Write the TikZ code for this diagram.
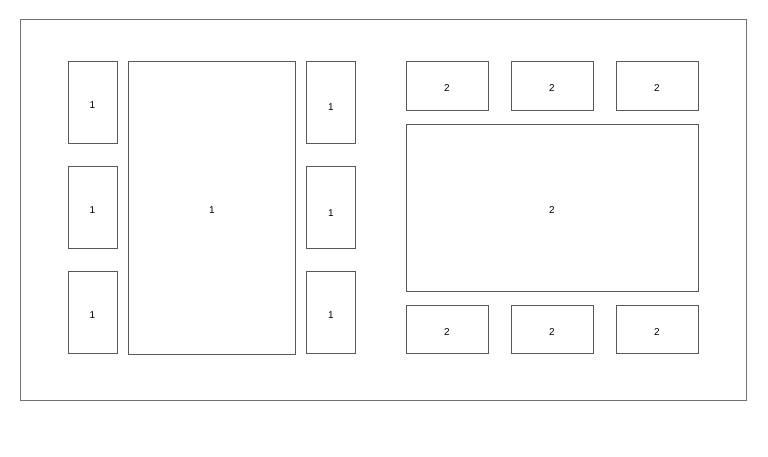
\documentclass[tikz,border=0pt]{standalone}
\usepackage{fontspec}
\setmainfont{Liberation Sans}
\usepackage{tikz}

\begin{document}
\begin{tikzpicture}[x=1pt, y=-1pt,
        box/.style={draw=black!65, line width=0.9pt, inner sep=0pt, text height=12pt, font=\fontsize{10}{12}\selectfont},
        tall/.style={box, minimum width=49pt, minimum height=82pt},
        flat/.style={box, minimum width=82pt, minimum height=48.5pt}]
        \useasboundingbox (0,0) rectangle (768,457);

        % Frame
        \draw[black!55, line width=0.9pt] (20,19.5) rectangle (746.7,400);

        % Group 1
        \foreach \i/\y in {1/102.5,2/207.5,3/312.5}
            \node[tall] (la\i) at (92.5,\y) {1};
        \foreach \i/\y/\h in {1/102.5/17pt,2/207.5/17pt,3/312.5/12pt}
            \node[tall, text height=\h] (lb\i) at (331,\y) {1};
        \node[box, minimum width=167pt, minimum height=292.5pt] (lmain) at (212,207.75) {1};

        % Group 2
        \foreach \i/\x in {1/447,2/552,3/657} {
            \node[flat] (rt\i) at (\x,85.75) {2};
            \node[flat] (rb\i) at (\x,329.5) {2};
        }
        \node[box, minimum width=292pt, minimum height=167pt] (rmain) at (552,207.5) {2};
\end{tikzpicture}
\end{document}
